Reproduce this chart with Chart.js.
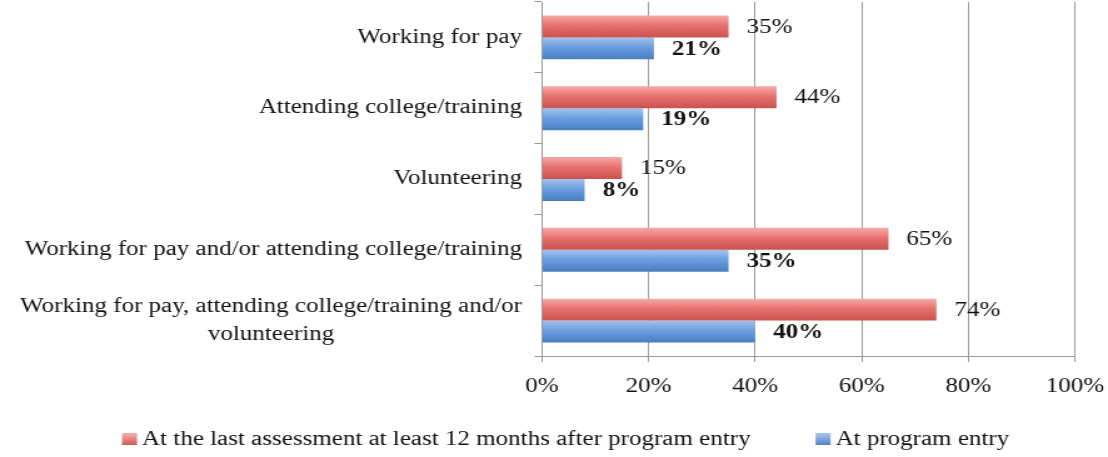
<!DOCTYPE html>
<html><head><meta charset="utf-8">
<script src="https://cdn.jsdelivr.net/npm/chart.js@4.4.0/dist/chart.umd.min.js"></script>
<style>
html,body{margin:0;padding:0;background:#fff;overflow:hidden;}
#wrap{width:886px;height:457px;transform:scaleX(1.25056);transform-origin:0 0;}
canvas{display:block;}
</style></head><body>
<div id="wrap"><canvas id="c" width="886" height="457"></canvas></div>
<script>
const categories = [
  ["Working for pay"],
  ["Attending college/training"],
  ["Volunteering"],
  ["Working for pay and/or attending college/training"],
  ["Working for pay, attending college/training and/or", "volunteering"]
];
const seriesNames = ["At the last assessment at least 12 months after program entry", "At program entry"];
const lastAssessment = [35, 44, 15, 65, 74];
const programEntry = [21, 19, 8, 35, 40];
const xTickValues = [0, 20, 40, 60, 80, 100];

const CAT_PCT = 0.62;
const FONT = '"Liberation Serif", "Times New Roman", serif';
const RED = ['#f6aaa8', '#e8726f', '#c9524f'];
const BLUE = ['#a3c3ec', '#6b9edf', '#4a7ec4'];
const GRID = '#9a9a9a';
const TEXT = '#111';

function barGradient(ctx, colors) {
  const chart = ctx.chart, ca = chart.chartArea, ys = chart.scales.y;
  if (!ca || !ys || ctx.dataIndex === undefined) return colors[1];
  const band = (ca.bottom - ca.top) / categories.length;
  const th = band * CAT_PCT / 2;
  const c = ys.getPixelForValue(ctx.dataIndex);
  const top = ctx.datasetIndex === 0 ? c - th : c;
  const g = chart.ctx.createLinearGradient(0, top, 0, top + th);
  g.addColorStop(0, colors[0]);
  g.addColorStop(0.45, colors[1]);
  g.addColorStop(1, colors[2]);
  return g;
}

const overlay = {
  id: 'overlay',
  afterDraw(chart) {
    const ctx = chart.ctx, ys = chart.scales.y;
    ctx.save();
    ctx.fillStyle = TEXT;
    ctx.font = '20px ' + FONT;
    ctx.textBaseline = 'middle';
    // category labels
    const rightEdge = 417.4;
    categories.forEach((lines, i) => {
      const y = ys.getPixelForValue(i);
      if (lines.length === 1) {
        ctx.textAlign = 'right';
        ctx.fillText(lines[0], rightEdge, y);
      } else {
        const maxW = Math.max(...lines.map(l => ctx.measureText(l).width));
        const cx = rightEdge - maxW / 2;
        ctx.textAlign = 'center';
        const lh = 28;
        lines.forEach((l, k) => ctx.fillText(l, cx, y + (k - (lines.length - 1) / 2) * lh));
      }
    });
    // data labels
    chart.data.datasets.forEach((ds, di) => {
      const meta = chart.getDatasetMeta(di);
      ctx.font = (di === 1 ? 'bold ' : '') + '20px ' + FONT;
      ctx.textAlign = 'left';
      meta.data.forEach((bar, i) => {
        ctx.fillText(ds.data[i] + '%', bar.x + 14.4, bar.y + 1);
      });
    });
    // legend
    ctx.font = '20px ' + FONT;
    ctx.textAlign = 'left';
    const boxW = 12, boxH = 12, gapBT = 4, gapItems = 52;
    let x = 97.6;
    const ly = 440;
    [RED, BLUE].forEach((cols, k) => {
      const g = ctx.createLinearGradient(0, ly - boxH / 2, 0, ly + boxH / 2);
      g.addColorStop(0, cols[0]); g.addColorStop(1, cols[2]);
      ctx.fillStyle = g;
      ctx.fillRect(x, ly - boxH / 2 - 1, boxW, boxH);
      ctx.fillStyle = TEXT;
      ctx.fillText(seriesNames[k], x + boxW + gapBT, ly);
      x += boxW + gapBT + ctx.measureText(seriesNames[k]).width + gapItems;
    });
    ctx.restore();
  }
};

new Chart(document.getElementById('c'), {
  type: 'bar',
  data: {
    labels: categories.map(c => c.join(' ')),
    datasets: [
      { label: seriesNames[0], data: lastAssessment, backgroundColor: c => barGradient(c, RED),
        categoryPercentage: CAT_PCT, barPercentage: 1.0 },
      { label: seriesNames[1], data: programEntry, backgroundColor: c => barGradient(c, BLUE),
        categoryPercentage: CAT_PCT, barPercentage: 1.0 }
    ]
  },
  options: {
    indexAxis: 'y',
    responsive: false,
    animation: false,
    devicePixelRatio: 1,
    layout: { padding: { left: 0, right: 26.4, top: 2, bottom: 61 } },
    plugins: { legend: { display: false }, tooltip: { enabled: false } },
    scales: {
      x: {
        type: 'linear', min: 0, max: 100,
        afterBuildTicks: s => { s.ticks = xTickValues.map(v => ({ value: v })); },
        ticks: { callback: v => v + '%', font: { family: FONT, size: 20 }, color: TEXT, padding: 13 },
        grid: { color: GRID, tickLength: 6, lineWidth: 1 },
        border: { color: GRID },
        afterFit: s => { s.height = 40; s.paddingRight = 0; s.paddingLeft = 0; }
      },
      y: {
        type: 'category',
        offset: true,
        ticks: { display: false },
        grid: { offset: true, drawOnChartArea: false, tickLength: 6, color: GRID },
        border: { color: GRID },
        afterFit: s => { s.width = 433.4; s.paddingTop = 0; s.paddingBottom = 0; }
      }
    }
  },
  plugins: [overlay]
});
</script>
</body></html>
